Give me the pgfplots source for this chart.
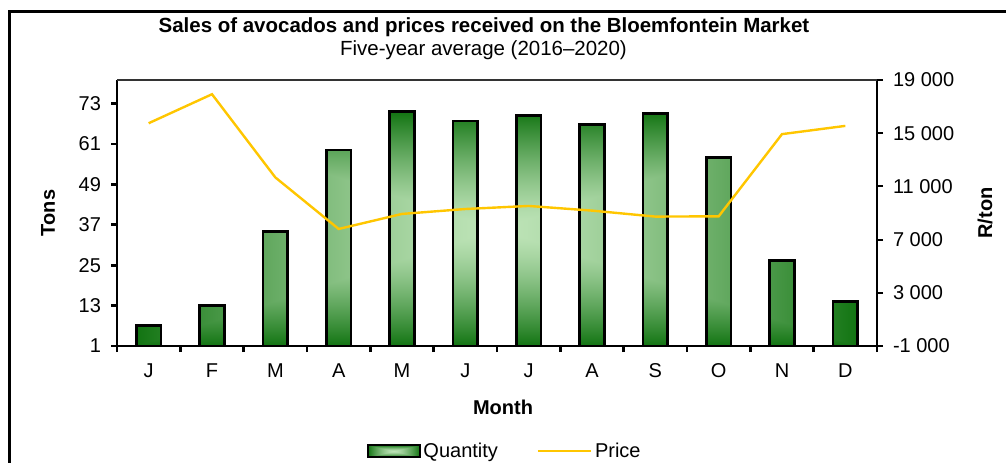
\documentclass[border=0pt]{standalone}
\usepackage{fontspec}
\setmainfont{Liberation Sans}
\usepackage{pgfplots}
\pgfplotsset{compat=1.18}

\definecolor{pricecol}{RGB}{255,198,0}
% light centre fading to dark green at every edge (rectangular gradient);
% the path is fitted to the central [-25bp,25bp] square
\pgfdeclarefunctionalshading{barshade}{\pgfpoint{-50bp}{-50bp}}{\pgfpoint{50bp}{50bp}}{}{
  abs exch abs 2 copy lt {exch} if pop 25 div
  dup 1 gt {pop 1} if
  1.4 exp
  dup dup
  -0.675 mul 0.745 add
  3 1 roll
  -0.439 mul 0.894 add
  exch
  -0.65 mul 0.72 add
}

\newcommand{\lbl}{\fontsize{15}{18}\selectfont}
\newcommand{\ttl}{\fontsize{15.35}{18}\selectfont}

\begin{document}
\begin{tikzpicture}[font=\lbl]
\path[use as bounding box] (0,0) rectangle (754.5pt,-347.25pt);

% quantity (left axis)
\begin{axis}[
    name=qty,
    at={(87.75pt,-259.5pt)}, anchor=south west,
    scale only axis, width=570pt, height=199.5pt,
    xmin=0.5, xmax=12.5,
    ymin=1, ymax=80,
    axis x line*=bottom, axis y line*=left,
    axis line style={line width=2pt},
    tick align=outside,
    major tick length=4.5pt,
    major tick style={line width=2pt, black},
    xtick={0.5,1.5,2.5,3.5,4.5,5.5,6.5,7.5,8.5,9.5,10.5,11.5,12.5},
    x tick label as interval,
    xticklabels={J,F,M,A,M,J,J,A,S,O,N,D},
    ytick={1,13,25,37,49,61,73},
    /pgf/number format/assume math mode=true,
    tick label style={font=\lbl},
    xticklabel shift=5pt,
    yticklabel shift=4pt,
    axis on top,
]
\addplot[ybar, bar width=18.5pt, draw=black, line width=2.1pt, shading=barshade]
  coordinates {
    (1,7.1) (2,13.1) (3,34.9) (4,59.2) (5,70.6) (6,67.8)
    (7,69.5) (8,66.9) (9,70.0) (10,57.1) (11,26.4) (12,14.3)
};
\end{axis}

% price (right axis)
\begin{axis}[
    at={(87.75pt,-259.5pt)}, anchor=south west,
    scale only axis, width=570pt, height=199.5pt,
    xmin=0.5, xmax=12.5,
    ymin=-1000, ymax=19000,
    axis x line=none, axis y line*=right,
    axis line style={line width=1.6pt},
    tick align=outside,
    major tick length=4.5pt,
    major tick style={line width=1.6pt, black},
    scaled y ticks=false,
    ytick={-1000,3000,7000,11000,15000,19000},
    yticklabels={-1 000,3 000,7 000,11 000,15 000,19 000},
    tick label style={font=\lbl},
    yticklabel shift=4pt,
    legend style={at={(0.5105,-0.395)}, anchor=center, draw=none,
      legend columns=2, font=\lbl,
      /tikz/every even column/.append style={column sep=27pt}},
]
\addlegendimage{legend image code/.code={
  \shade[draw=black, line width=1.6pt, shading=barshade] (0pt,-4.5pt) rectangle (39pt,4.5pt);}}
\addlegendentry{Quantity}
\addplot[pricecol, line width=1.8pt, mark=none,
  legend image code/.code={\draw[pricecol, line width=1.8pt] (0pt,0pt) -- (40pt,0pt);}]
  coordinates {
    (1,15750) (2,17930) (3,11675) (4,7800) (5,8930) (6,9300)
    (7,9530) (8,9180) (9,8730) (10,8750) (11,14930) (12,15550)
};
\addlegendentry{Price}
\end{axis}

\begin{scope}[x=0.75pt, y=-0.75pt]
\draw[line width=2.2pt] (9.5,480) -- (9.5,11.3) -- (1030,11.3);
\draw[line width=0.8pt, black!80] (117,80) -- (877,80);
\node[font=\ttl\bfseries] at (484,27) {Sales of avocados and prices received on the Bloemfontein Market};
\node[font=\ttl] at (483.5,50) {Five-year average (2016--2020)};
\node[font=\lbl\bfseries, rotate=90] at (48,213) {Tons};
\node[font=\lbl\bfseries, rotate=90] at (985,213) {R/ton};
\node[font=\lbl\bfseries] at (503,407) {Month};
\end{scope}
\end{tikzpicture}
\end{document}
